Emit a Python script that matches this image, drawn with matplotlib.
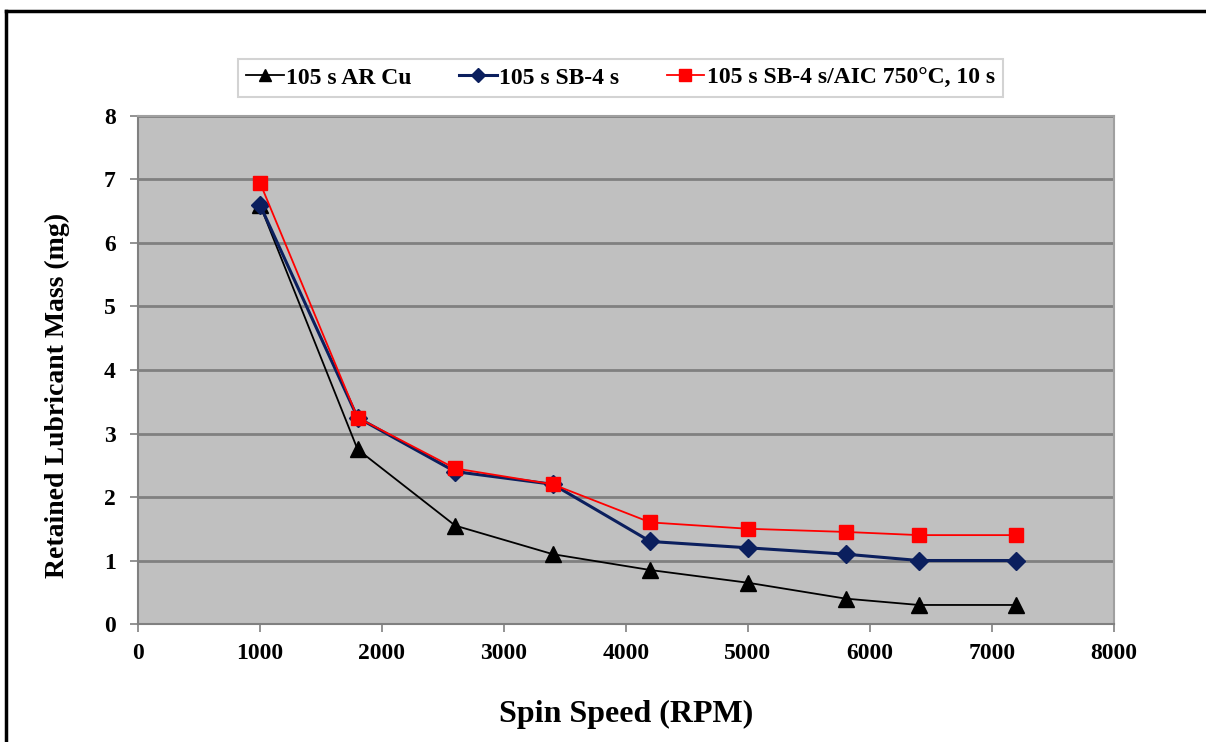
import matplotlib.pyplot as plt
from matplotlib.lines import Line2D

# data
spin_speed = [1000, 1800, 2600, 3400, 4200, 5000, 5800, 6400, 7200]
ar_cu = [6.6, 2.75, 1.55, 1.1, 0.85, 0.65, 0.4, 0.3, 0.3]
sb4 = [6.6, 3.25, 2.4, 2.2, 1.3, 1.2, 1.1, 1.0, 1.0]
sb4_aic = [6.95, 3.25, 2.45, 2.2, 1.6, 1.5, 1.45, 1.4, 1.4]
labels = ['105 s AR Cu', '105 s SB-4 s', '105 s SB-4 s/AIC 750°C, 10 s']

plt.rcParams['font.family'] = ['Liberation Serif', 'DejaVu Serif']
plt.rcParams['font.weight'] = 'bold'

fig = plt.figure(figsize=(12.06, 7.42), dpi=100)
ax = fig.add_axes([0.1144, 0.159, 0.8093, 0.6847])
ax.set_facecolor('#C0C0C0')

ax.plot(spin_speed, ar_cu, color='black', lw=1.3, marker='^', ms=11, label=labels[0], zorder=3)
ax.plot(spin_speed, sb4, color='#0B1F5E', lw=2.2, marker='D', ms=9, label=labels[1], zorder=4)
ax.plot(spin_speed, sb4_aic, color='#FF0000', lw=1.3, marker='s', ms=10, label=labels[2], zorder=5)

ax.set_xlim(0, 8000)
ax.set_ylim(0, 8)
ax.set_xticks(range(0, 8001, 1000))
ax.set_yticks(range(0, 9))
ax.yaxis.grid(True, color='#808080', lw=2)
ax.set_axisbelow(True)
ax.tick_params(labelsize=17, color='#808080', length=6, width=1.2)
ax.tick_params(axis='x', pad=8)
ax.tick_params(axis='y', pad=10)
for lab in ax.get_xticklabels() + ax.get_yticklabels():
    lab.set_fontweight('bold')
for side in ['left', 'bottom']:
    ax.spines[side].set_color('#808080')
    ax.spines[side].set_linewidth(1.5)
for side in ['top', 'right']:
    ax.spines[side].set_color('#A0A0A0')
    ax.spines[side].set_linewidth(1.5)

ax.set_xlabel('Spin Speed (RPM)', fontsize=23, fontweight='bold')
ax.xaxis.set_label_coords(0.5, -0.15)
ax.set_ylabel('Retained Lubricant Mass (mg)', fontsize=20, fontweight='bold')
ax.yaxis.set_label_coords(-0.07, 0.45)

leg = fig.legend(loc='center', bbox_to_anchor=(0.5145, 0.895), ncol=3, fontsize=17,
                 frameon=True, fancybox=False, edgecolor='#C8C8C8', handlelength=1.6,
                 handletextpad=0.1, columnspacing=2.0, borderpad=0.35, markerscale=0.8)
leg.get_frame().set_linewidth(1.5)

# outer frame of the picture (left and top edges visible)
fig.add_artist(Line2D([6 / 1206, 6 / 1206], [0, 1 - 11 / 742], color='black', lw=2.5,
                      transform=fig.transFigure))
fig.add_artist(Line2D([6 / 1206, 1], [1 - 11 / 742, 1 - 11 / 742], color='black', lw=2.5,
                      transform=fig.transFigure))

fig.savefig('out.png', dpi=100)
